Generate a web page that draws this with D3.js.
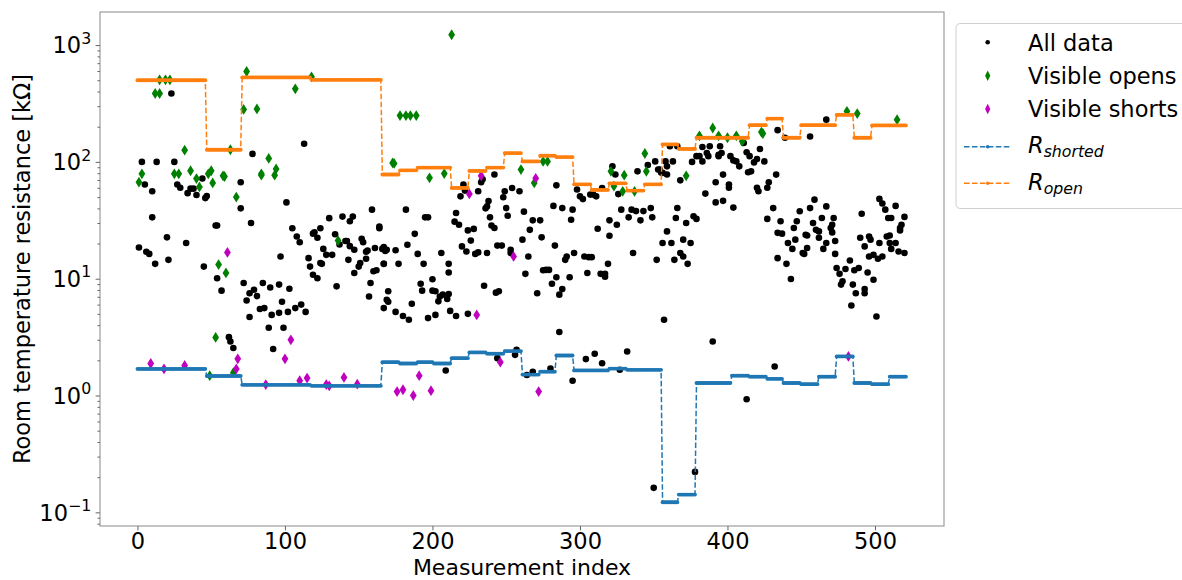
<!DOCTYPE html>
<html>
<head>
<meta charset="utf-8">
<script src="https://cdn.jsdelivr.net/npm/d3@7"></script>
<style>
  body { margin: 0; background: #fff; }
  text { font-family: "DejaVu Sans", sans-serif; fill: #000; }
</style>
</head>
<body>
<script>
const svgWidth = 1182; //Width of SVG.
const svgHeight = 580; //Height of SVG.
const plotLeft = 100, plotRight = 944, plotTop = 12, plotBottom = 526; //Axes box.

//Block edges (measurement index) for the step lines, 44 blocks.
const blockEdges = [0, 12, 24, 36, 47, 59, 71, 83, 95, 107, 118, 130, 142, 154, 166, 178, 190, 201, 213, 225,
  237, 249, 261, 273, 284, 296, 308, 320, 332, 344, 356, 367, 379, 391, 403, 415, 427, 438, 450, 462, 474, 486, 498, 510, 522];

//R_open per block [kOhm].
const rOpen = [500, 500, 500, 500, 127, 127, 528, 528, 528, 528, 504, 504, 504, 504, 78, 84.7, 89.4, 89.4, 59.8, 83.6,
  89.4, 119, 101, 113, 110, 64.3, 57.5, 65.6, 56.8, 64.3, 141, 129, 161, 161, 161, 206, 235, 161, 206, 206, 253, 161, 205, 205];

//R_shorted per block [kOhm].
const rShorted = [1.69, 1.69, 1.69, 1.69, 1.47, 1.47, 1.235, 1.235, 1.235, 1.235, 1.21, 1.21, 1.21, 1.21, 1.93, 1.88, 1.93, 1.88, 2.09, 2.34,
  2.28, 2.40, 1.51, 1.60, 2.20, 1.64, 1.64, 1.70, 1.66, 1.66, 0.122, 0.142, 1.28, 1.28, 1.48, 1.45, 1.39, 1.28, 1.25, 1.45, 2.16, 1.28, 1.25, 1.45];

//All data: [index, resistance kOhm].
const allData = [
  [23,385],[113,143],[78,117],[3,100],[13,100],[25,100],[5,64],[10,56],[27,64],[29,60],[34,54],[36,59],[38,59],[40,52],[44,72],[46,49],[47,51],
  [70,67],[70,40],[101,45],[10,33.5],[53,28.5],[54,28.5],[77,30],[159,39],[130,33],[139,34],[144,31],[146,34],[124,27],[120,25],[105,27],
  [108,23],[110,20.5],[134,24],[142,21],[152,22],[153,20.5],[164,28],[164,27],[20,22.6],[33,20.2],[1,18.5],[6,17],[8,16.3],[12,13.4],[21,14.5],
  [45,12.7],[97,15.5],[126,18],[128,16],[132,16],[137,19.6],[141,21],[144,19],[147,17.7],[155,17],[156,17.4],[161,18.3],[166,18],[168,17.3],
  [175,17.5],[143,14.5],[150,12.7],[155,14.8],[167,13.4],[116,15],[117,12.7],[124,13.6],[119,24.3],[122,22.4],
  [54,10.1],[57,7.9],[62,3.16],[63,2.9],[65,2.55],[72,9.2],[74,6.5],[76,7.5],[79,8.05],[81,7.1],[76,4.7],[85,9.2],[90,8.4],[96,8.9],[103,8.2],
  [98,6.35],[83,5.5],[86,5.6],[91,4.9],[96,5.1],[102,5.2],[107,5.6],[111,6],[114,5.2],[89,3.8],[99,3.8],[92,2.5],[119,10.8],[122,10.1],[125,13.4],
  [135,8.6],[147,11.2],[151,13.6],[157,7.05],[158,9.2],[160,11.6],[162,11.8],[167,5.6],[170,7.8],
  [167,18.7],[169,17.7],[182,39],[183,19.5],[188,24.2],[190,16.3],[195,33.5],[197,33.5],[194,13.4],[177,13.4],[206,16.6],[211,13.4],[215,30.8],
  [218,29],[216,36.5],[219,50.7],[221,64],[222,56.8],[220,18.9],[223,17.1],[224,25.9],[228,26.7],[226,21.2],[229,16.3],[231,16.8],[231,56],
  [233,67],[234,71],[237,16.6],[237,41.6],[236,40],[238,46.3],[239,33.5],[240,28.5],[242,27.2],[242,78],[244,19.2],[247,19.2],[248,49.8],
  [249,56],[250,40.2],[251,34.6],[254,59.8],[259,56],[253,17.7],[253,16.6],[261,21.6],[262,37.5],[266,26.2],[268,31.6],[273,31.6],[274,22.6],
  [282,42],[288,40.2],[283,19.2],[284,63],[291,15.5],[290,14.5],[294,32],[295,39],[296,16.6],[298,58],[300,50.7],[302,48],[307,52.5],[309,52.5],
  [311,50.7],[303,15.5],[308,15.3],[306,15.3],[315,59.8],[312,26.8],[320,31.6],[320,23.3],[325,29],[319,13.4],[322,91.8],[324,78],[326,53],
  [328,39],[333,33.5],[335,39],[338,37.9],[341,31.6],[343,37.9],[348,40.2],[349,33.5],[336,16.6],[339,83],[346,94],[351,101],[353,86],[355,81],
  [358,101],[359,78],[359,25.4],[356,20.2],[352,14.5],
  [167,13.4],[169,6.6],[170,6.35],[175,5.2],[180,4.8],[184,4.45],[186,6.1],[192,9.05],[193,7.9],[200,9.9],[200,7.9],[202,7.8],[204,6.4],[205,7.05],
  [207,7.3],[210,6.7],[211,7.4],[211,11.3],[197,4.6],[202,4.9],[212,5.3],[216,4.8],[224,5.0],[235,8.7],[243,7.6],[245,7.8],[263,11],[265,15.5],
  [271,7.5],[275,11.8],[277,11.9],[279,11.9],[281,9.05],[284,10.3],[286,7.3],[288,8.15],[293,10.3],[305,11.2],[314,11],[317,11],[317,10.4],
  [357,4.45],[286,3.5],[209,1.64],[244,2.09],[257,2.46],[256,2.23],[264,1.5],[268,1.6],[280,1.7],[295,1.34],[304,2.05],[310,2.28],[315,1.89],
  [327,1.66],[332,2.38],[350,0.162],
  [467,230],[434,187],[439,161],[456,165],[383,134],[388,136],[395,136],[381,112],[386,119],[379,112],[383,101],[387,112],[396,119],[394,115],
  [394,112],[376,100],[368,69.5],[363,101],[359,91.6],[356,80.5],[354,86],[361,136],[366,136],[402,112],[406,101],[408,91.6],[404,103],[411,145],
  [413,121],[415,112],[418,99],[420,106],[416,83],[422,129],[425,101],[414,81.5],[433,77.8],[428,67],[427,60],[420,60],[421,56],[401,64],[401,60],
  [392,67],[397,77.8],[392,45],[397,46.4],[404,40.6],[385,53.5],
  [379,32.5],[377,34.2],[372,30],[365,33.1],[366,40.3],[362,20.2],[370,21.6],[375,20.2],[368,16.6],[370,15.5],[373,13.4],[364,14.5],
  [431,40.2],[427,32.5],[436,31],[434,24.7],[437,24.3],[441,20.2],[444,18],[446,21.6],[445,27.2],[449,37.8],[447,31],[453,23.8],[456,40.2],
  [459,47.5],[458,30],[460,26.2],[464,33.1],[467,41.6],[462,25.4],[462,22.4],[465,18],[470,27.2],[471,29],[471,24.9],[473,21],[472,33.1],
  [467,20.2],[454,18.3],[451,16.6],[454,23.4],
  [491,36],[503,48.2],[505,44],[507,39],[514,42],[509,33.1],[511,33.1],[518,29],[520,33.8],[517,27.2],[517,25.9],[490,22.4],[497,21.6],[496,23],
  [503,20.2],[508,23],[510,23.4],[510,20.2],[511,18],[514,20.2],[493,18.9],[496,15.5],[499,16],[502,14.8],[505,15.5],[516,17.1],[520,16.6],[483,14.3],
  [390,2.9],[432,1.77],[413,0.93],[378,0.222],[434,15],[440,13.4],[443,9.95],[452,16.3],[473,16.3],[474,12.35],[476,11],[480,12.1],[478,9.5],
  [477,8.9],[485,8.9],[487,7.5],[486,11.8],[489,12.35],[493,7.5],[495,11.3],[499,9.8],[501,4.75],[484,5.9],[493,8.15]
];

//Visible opens: [index, resistance kOhm].
const visibleOpens = [
  [15,504],[19,504],[22,504],[12,385],[15,385],[74,594],[72,281],[81,284],[107,422],[118,535],[63,127],[32,126],[89,107],[3,79],[1,67],
  [25,79],[28,79],[36,84],[40,72],[42,61],[48,79],[50,84],[51,66],[58,76],[59,75],[84,79],[84,77],[94,87],[93,77],[67,50],[55,13.2],[60,11.2],
  [136,21.2],[53,3.14],[49,1.48],[65,1.57],
  [213,1225],[178,249],[182,249],[185,249],[189,249],[173,98],[174,97],[198,73],[208,79.5],[260,86],[275,101],[278,101],[269,66],[321,83],
  [330,77],[323,62],[329,56],[337,56],[345,83],[344,118],
  [390,195],[381,167],[394,167],[400,161],[406,167],[410,150],[423,180],[424,175],[481,271],[488,259],[515,230],[372,76]
];

//Visible shorts: [index, resistance kOhm].
const visibleShorts = [
  [61,16.8],[9,1.88],[18,1.69],[32,1.81],[68,2.06],[67,1.69],[104,3.0],[100,2.06],[87,1.24],[110,1.34],[115,1.41],[128,1.24],[130,1.21],
  [140,1.43],[149,1.25],[233,76],[225,53.2],[270,72.3],[255,15.5],[176,1.08],[180,1.12],[187,1.0],[191,1.48],[199,1.1],[230,4.9],[246,1.93],
  [272,1.08],[482,2.16]
];

const xTicks = [0, 100, 200, 300, 400, 500];
const yTickExponents = [-1, 0, 1, 2, 3];
const legendLabels = ["All data", "Visible opens", "Visible shorts", "shorted", "open"];

const colours = { all: "#000", opens: "#008000", shorts: "#bf00bf", shorted: "#1f77b4", open: "#ff7f0e" };

let xScale = d3.scaleLinear() //Scale for the x-axis.
  .domain([-25.4, 546.8])
  .range([plotLeft, plotRight]);

let yScale = d3.scaleLog() //Log scale for the y-axis.
  .domain([0.0764, 1919])
  .range([plotBottom, plotTop]);

let svg = d3.select("body").append("svg")
  .attr("width", svgWidth)
  .attr("height", svgHeight);

let plot = svg.append("g");

//Thin diamond marker.
function diamond(w, h) {
  return "M0," + (-h) + "L" + w + ",0L0," + h + "L" + (-w) + ",0Z";
}

plot.selectAll("circle.all") //All data points.
  .data(allData)
  .enter().append("circle")
  .attr("class", "all")
  .attr("cx", d => xScale(d[0]))
  .attr("cy", d => yScale(d[1]))
  .attr("r", 3.3)
  .attr("fill", colours.all);

plot.selectAll("path.opens") //Visible opens.
  .data(visibleOpens)
  .enter().append("path")
  .attr("class", "opens")
  .attr("d", diamond(3.4, 5.4))
  .attr("transform", d => "translate(" + xScale(d[0]) + "," + yScale(d[1]) + ")")
  .attr("fill", colours.opens);

plot.selectAll("path.shorts") //Visible shorts.
  .data(visibleShorts)
  .enter().append("path")
  .attr("class", "shorts")
  .attr("d", diamond(3.4, 5.4))
  .attr("transform", d => "translate(" + xScale(d[0]) + "," + yScale(d[1]) + ")")
  .attr("fill", colours.shorts);

//Step lines, one point per measurement index.
function stepPoints(values) {
  let pts = [];
  values.forEach(function(v, k) {
    for (let i = blockEdges[k]; i < blockEdges[k + 1]; i++) pts.push([i, v]);
  });
  return pts;
}

let line = d3.line()
  .x(d => xScale(d[0]))
  .y(d => yScale(d[1]));

[["shorted", rShorted], ["open", rOpen]].forEach(function(s) {
  let pts = stepPoints(s[1]);
  plot.append("path")
    .attr("d", line(pts))
    .attr("fill", "none")
    .attr("stroke", colours[s[0]])
    .attr("stroke-width", 1.5)
    .attr("stroke-dasharray", "5.55,2.4");
  plot.append("g").selectAll("circle")
    .data(pts)
    .enter().append("circle")
    .attr("cx", d => xScale(d[0]))
    .attr("cy", d => yScale(d[1]))
    .attr("r", 1.9)
    .attr("fill", colours[s[0]]);
});

//Frame.
svg.append("rect")
  .attr("x", plotLeft).attr("y", plotTop)
  .attr("width", plotRight - plotLeft).attr("height", plotBottom - plotTop)
  .attr("fill", "none")
  .attr("stroke", "#8a8a8a")
  .attr("stroke-width", 1);

//X-axis.
let xAxis = d3.axisBottom(xScale)
  .tickValues(xTicks)
  .tickFormat(d3.format("d"))
  .tickSize(4.4)
  .tickSizeOuter(0)
  .tickPadding(2.5);

let gx = svg.append("g")
  .attr("transform", "translate(0," + plotBottom + ")")
  .call(xAxis);
gx.select(".domain").remove();
gx.selectAll("line").attr("stroke", "#666");
gx.selectAll("text").attr("font-family", "DejaVu Sans").attr("font-size", 22.5).attr("fill", "#000");

//Y-axis major and minor ticks.
let majorTicks = yTickExponents.map(e => Math.pow(10, e));
let minorTicks = [];
for (let e = -2; e <= 3; e++) {
  for (let m = 2; m <= 9; m++) {
    let v = m * Math.pow(10, e);
    if (v >= yScale.domain()[0] && v <= yScale.domain()[1]) minorTicks.push(v);
  }
}

let gy = svg.append("g")
  .attr("transform", "translate(" + plotLeft + ",0)")
  .call(d3.axisLeft(yScale).tickValues(majorTicks).tickFormat("").tickSize(4.4).tickSizeOuter(0));
gy.select(".domain").remove();
gy.selectAll("line").attr("stroke", "#666");

let gyMinor = svg.append("g")
  .attr("transform", "translate(" + plotLeft + ",0)")
  .call(d3.axisLeft(yScale).tickValues(minorTicks).tickFormat("").tickSize(2.5).tickSizeOuter(0));
gyMinor.select(".domain").remove();
gyMinor.selectAll("line").attr("stroke", "#666");

//Y tick labels as 10^n.
yTickExponents.forEach(function(e) {
  let t = svg.append("text")
    .attr("x", plotLeft - 8.8)
    .attr("y", yScale(Math.pow(10, e)) + 8.2)
    .attr("text-anchor", "end")
    .attr("font-size", 22.5);
  t.append("tspan").text("10");
  t.append("tspan")
    .attr("dy", -9.5)
    .attr("font-size", 15.75)
    .text(e < 0 ? "\u2212" + (-e) : String(e));
});

//Axis labels.
svg.append("text")
  .attr("x", (plotLeft + plotRight) / 2)
  .attr("y", 574.5)
  .attr("text-anchor", "middle")
  .attr("font-size", 22)
  .text("Measurement index");

svg.append("text")
  .attr("transform", "translate(30," + ((plotTop + plotBottom) / 2) + ") rotate(-90)")
  .attr("text-anchor", "middle")
  .attr("font-size", 22.5)
  .text("Room temperature resistance [k\u03A9]");

//Legend.
let legend = svg.append("g");
legend.append("rect")
  .attr("x", 956).attr("y", 23.5)
  .attr("width", 250).attr("height", 185)
  .attr("rx", 4)
  .attr("fill", "#fff")
  .attr("stroke", "#d0d0d0");

const legendY = [42.3, 75.7, 109, 146.7, 183.3];
const markerX = 987.7, textX = 1028;

legend.append("circle").attr("cx", markerX).attr("cy", legendY[0]).attr("r", 2.3).attr("fill", colours.all);
legend.append("path").attr("d", diamond(2.6, 5.2)).attr("transform", "translate(" + markerX + "," + legendY[1] + ")").attr("fill", colours.opens);
legend.append("path").attr("d", diamond(2.6, 5.2)).attr("transform", "translate(" + markerX + "," + legendY[2] + ")").attr("fill", colours.shorts);

[["shorted", legendY[3]], ["open", legendY[4]]].forEach(function(s) {
  legend.append("line")
    .attr("x1", 964).attr("x2", 1010)
    .attr("y1", s[1]).attr("y2", s[1])
    .attr("stroke", colours[s[0]])
    .attr("stroke-width", 1.5)
    .attr("stroke-dasharray", "5.55,2.4");
  legend.append("circle").attr("cx", markerX).attr("cy", s[1]).attr("r", 1.8).attr("fill", colours[s[0]]);
});

legendLabels.slice(0, 3).forEach(function(l, i) {
  legend.append("text")
    .attr("x", textX)
    .attr("y", legendY[i] + 8.2)
    .attr("font-size", 22.5)
    .text(l);
});

legendLabels.slice(3).forEach(function(l, i) {
  let t = legend.append("text")
    .attr("x", textX)
    .attr("y", legendY[i + 3] + 6.5)
    .attr("font-size", 22.5)
    .attr("font-style", "italic");
  t.append("tspan").text("R");
  t.append("tspan")
    .attr("dy", 4)
    .attr("font-size", 15.75)
    .text(l);
});
</script>
</body>
</html>
